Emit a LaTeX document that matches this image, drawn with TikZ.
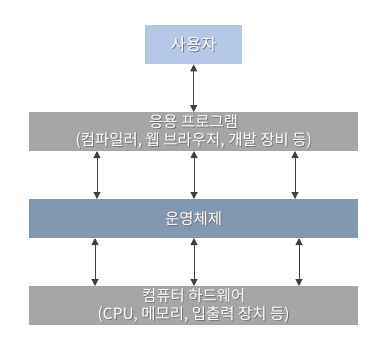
\documentclass[tikz,border=0pt]{standalone}
\usepackage{fontspec}
\setmainfont{Noto Sans CJK KR}
\usetikzlibrary{arrows.meta}
\definecolor{userblue}{HTML}{B4C7E7}
\definecolor{layergray}{HTML}{A6A6A6}
\definecolor{osblue}{HTML}{8497B0}
\definecolor{arrowgray}{HTML}{404040}
\begin{document}
\begin{tikzpicture}[x=1pt,y=-1pt,
  layer/.style={minimum width=329pt,minimum height=39pt,inner sep=0pt,anchor=north west},
  txt/.style={text=white,align=center,inner sep=0pt},
  shadowtxt/.style={text=black!55,align=center,inner sep=0pt},
  link/.style={draw=arrowgray,line width=1pt,{Triangle[length=7pt,width=7pt]}-{Triangle[length=7pt,width=7pt]}}
]
\useasboundingbox (0,0) rectangle (388,341);
\node[layer,fill=userblue,minimum width=97pt] (user) at (145,25) {};
\node[layer,fill=layergray] (app) at (29,112) {};
\node[layer,fill=osblue] (os) at (29,199) {};
\node[layer,fill=layergray] (hw) at (29,286) {};
% text with shadow
\foreach \n/\t/\s in {user/사용자/16.5, app/{응용 프로그램\\(컴파일러, 웹 브라우저, 개발 장비 등)}/15.5, os/운영체제/15.5, hw/{컴퓨터 하드웨어\\(CPU, 메모리, 입출력 장치 등)}/15.5}{
  \node[shadowtxt,font=\fontsize{\s}{17.5}\selectfont] at ([shift={(0.9,0.9)}]\n.center) {\t};
  \node[txt,font=\fontsize{\s}{17.5}\selectfont] (\n-label) at (\n.center) {\t};
}
% connectors
\draw[link] (user.south) -- (app.north);
\foreach \xa in {97,194,295}{
  \coordinate (a\xa) at (\xa,151);
  \coordinate (b\xa) at (\xa,199);
  \draw[link] (a\xa) -- (b\xa);
}
\foreach \xa in {95,194,299}{
  \coordinate (c\xa) at (\xa,238);
  \coordinate (d\xa) at (\xa,286);
  \draw[link] (c\xa) -- (d\xa);
}
\end{tikzpicture}
\end{document}
